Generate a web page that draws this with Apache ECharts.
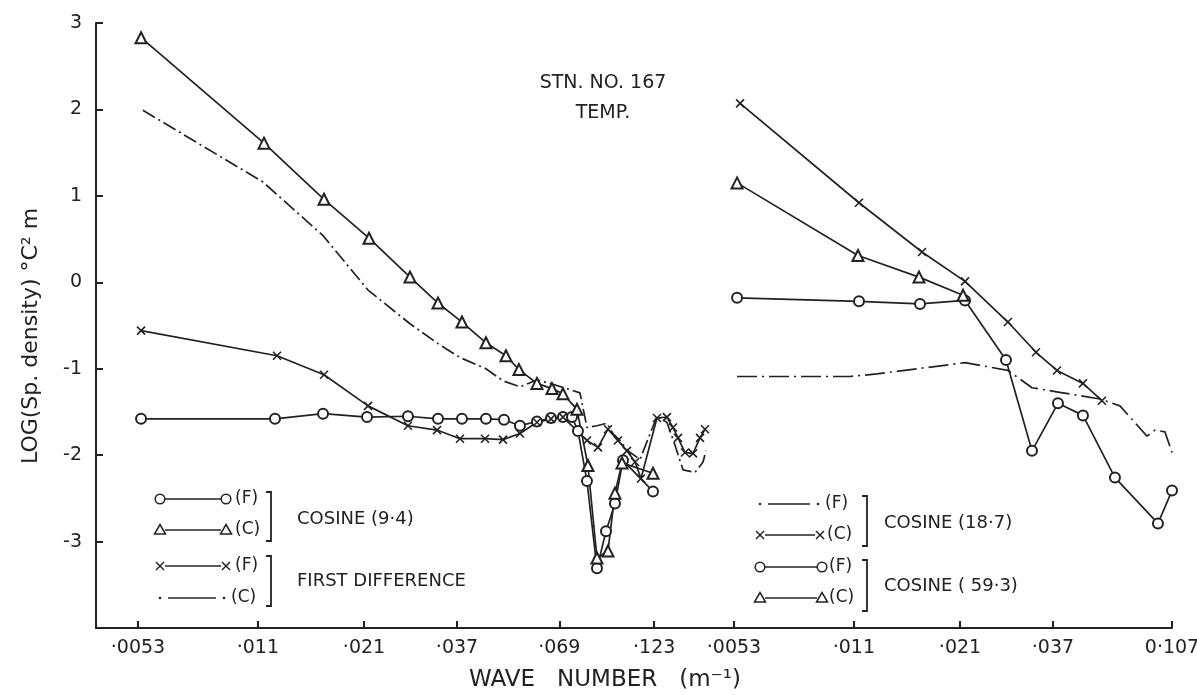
<!DOCTYPE html>
<html><head><meta charset="utf-8">
<script src="https://cdn.jsdelivr.net/npm/echarts@6/dist/echarts.min.js"></script>
<style>html,body{margin:0;padding:0;background:#fff}#c{width:1197px;height:695px}</style>
</head><body><div id="c"></div><script>
// ---- DATA (x = wave number m^-1, y = log spectral density) ----
const leftTickValues = [0.0053, 0.011, 0.021, 0.037, 0.069, 0.123];
const leftTickLabels = ['·0053', '·011', '·021', '·037', '·069', '·123'];
const rightTickValues = [0.0053, 0.011, 0.021, 0.037, 0.0764];
const rightTickLabels = ['·0053', '·011', '·021', '·037', '0·107'];
const yTickLabels = ['-3', '-2', '-1', '0', '1', '2', '3'];

// Left panel
const cosine94F = [[0.00540,-1.58],[0.01221,-1.58],[0.01636,-1.52],[0.02139,-1.56],[0.02745,-1.55],[0.03296,-1.58],[0.03814,-1.58],[0.04414,-1.58],[0.04927,-1.59],[0.05430,-1.66],[0.06022,-1.61],[0.06560,-1.57],[0.07055,-1.56],[0.07455,-1.56],[0.07731,-1.72],[0.08167,-2.30],[0.08680,-3.31],[0.09170,-2.88],[0.09685,-2.56],[0.1017,-2.06],[0.1221,-2.42]];
const cosine94C = [[0.00540,2.83],[0.01142,1.61],[0.01646,0.96],[0.02165,0.51],[0.02779,0.06],[0.03296,-0.24],[0.03814,-0.46],[0.04414,-0.70],[0.04986,-0.85],[0.05397,-1.01],[0.06022,-1.17],[0.06600,-1.23],[0.07055,-1.29],[0.07684,-1.47],[0.08215,-2.12],[0.08680,-3.19],[0.09282,-3.11],[0.09685,-2.44],[0.1011,-2.09],[0.1221,-2.21]];
const firstDiffF = [[0.00540,-0.56],[0.01236,-0.85],[0.01646,-1.07],[0.02152,-1.43],[0.02745,-1.66],[0.03276,-1.71],[0.03768,-1.81],[0.04388,-1.81],[0.04897,-1.82],[0.05430,-1.75],[0.06022,-1.62],[0.06560,-1.58],[0.07055,-1.56],[0.08167,-1.83],[0.08733,-1.91],[0.09282,-1.70],[0.09861,-1.83],[0.1042,-1.95],[0.1095,-2.08],[0.1135,-2.27],[0.1251,-1.57],[0.1329,-1.56],[0.1379,-1.68],[0.1422,-1.80],[0.1484,-1.97],[0.1558,-1.98],[0.1626,-1.80],[0.1676,-1.70]];
const firstDiffC = [[0.00546,1.99],[0.01135,1.16],[0.01636,0.54],[0.02152,-0.09],[0.02779,-0.48],[0.03296,-0.71],[0.03768,-0.87],[0.04414,-1.00],[0.04897,-1.14],[0.05430,-1.21],[0.06022,-1.13],[0.06519,-1.17],[0.07228,-1.23],[0.07826,-1.28],[0.08167,-1.68],[0.08680,-1.66],[0.09226,-1.63],[0.09566,-1.75],[0.09985,-1.83],[0.1049,-1.95],[0.1128,-2.05],[0.1251,-1.55],[0.1329,-1.62],[0.1388,-1.85],[0.1466,-2.17],[0.1577,-2.20],[0.1656,-2.08],[0.1686,-1.95]];

// Right panel
const cosine187F = [[0.00540,-1.09],[0.01074,-1.09],[0.01266,-1.06],[0.02165,-0.93],[0.02812,-1.02],[0.03256,-1.22],[0.03814,-1.27],[0.04927,-1.35],[0.05564,-1.43],[0.06560,-1.78],[0.06887,-1.71],[0.07318,-1.73],[0.0764,-1.97]];
const cosine187C = [[0.00550,2.07],[0.01135,0.92],[0.01666,0.35],[0.02165,0.01],[0.02812,-0.46],[0.03336,-0.81],[0.03791,-1.02],[0.04441,-1.17],[0.04986,-1.37]];
const cosine593F = [[0.00540,-0.18],[0.01135,-0.22],[0.01646,-0.25],[0.02165,-0.21],[0.02779,-0.90],[0.03256,-1.95],[0.03814,-1.40],[0.04441,-1.54],[0.05397,-2.26],[0.07013,-2.79],[0.0764,-2.41]];
const cosine593C = [[0.00540,1.15],[0.01128,0.31],[0.01636,0.06],[0.02139,-0.15]];

// ---- STYLE ----
const INK = '#222222';
const FONT = "'DejaVu Sans', sans-serif";
const XSYM = 'path://M0,0L10,10M10,0L0,10';
const LW = 1.7;

function mkSeries(name, data, idx, kind) {
  const s = {name, type: 'line', data, xAxisIndex: idx, yAxisIndex: idx,
    lineStyle: {color: INK, width: LW}, itemStyle: {color: INK, borderColor: INK, borderWidth: 1.5},
    symbol: 'none', symbolSize: 10, showAllSymbol: true, z: 3, emphasis: {disabled: true}};
  if (kind === 'circle') { s.symbol = 'emptyCircle'; s.symbolSize = 10; }
  if (kind === 'tri') { s.symbol = 'emptyTriangle'; s.symbolSize = 11; }
  if (kind === 'x') { s.symbol = XSYM; s.symbolSize = 8; s.itemStyle = {color: 'none', borderColor: INK, borderWidth: 1.6}; }
  if (kind === 'dashdot') { s.lineStyle.type = [14, 4, 2, 4]; }
  if (kind === 'dashdot2') { s.lineStyle.type = [20, 5, 2, 5]; }
  return s;
}

function xAxisFor(idx, min, max, values, labels) {
  return {type: 'log', gridIndex: idx, min, max, logBase: 10,
    axisLine: {show: true, onZero: false, lineStyle: {color: INK, width: 2}},
    axisTick: {show: true, inside: true, length: 7, customValues: values, lineStyle: {color: INK, width: 2}},
    axisLabel: {customValues: values, margin: 11, color: INK, fontFamily: FONT, fontSize: 19,
      formatter: v => { let best = 0; for (let i = 1; i < values.length; i++) if (Math.abs(Math.log(values[i]) - Math.log(v)) < Math.abs(Math.log(values[best]) - Math.log(v))) best = i; return labels[best]; }},
    splitLine: {show: false}, minorTick: {show: false}};
}

const legendLeft = [
  {x1: 160, x2: 226, y: 499, sym: 'circle', label: '(F)', lx: 235},
  {x1: 160, x2: 226, y: 530, sym: 'tri', label: '(C)', lx: 235},
  {x1: 160, x2: 226, y: 566, sym: 'x', label: '(F)', lx: 235},
  {x1: 160, x2: 224, y: 598, sym: 'dot', label: '(C)', lx: 231}
];
const legendRight = [
  {x1: 760, x2: 818, y: 504, sym: 'dot', label: '(F)', lx: 825},
  {x1: 760, x2: 820, y: 535, sym: 'x', label: '(C)', lx: 827},
  {x1: 760, x2: 822, y: 567, sym: 'circle', label: '(F)', lx: 829},
  {x1: 760, x2: 822, y: 598, sym: 'tri', label: '(C)', lx: 829}
];
const groups = [
  {bx: 271, y1: 492, y2: 541, text: 'COSINE (9·4)', tx: 297, ty: 519},
  {bx: 271, y1: 556, y2: 606, text: 'FIRST DIFFERENCE', tx: 297, ty: 581},
  {bx: 867, y1: 496, y2: 546, text: 'COSINE (18·7)', tx: 884, ty: 523},
  {bx: 867, y1: 560, y2: 611, text: 'COSINE ( 59·3)', tx: 884, ty: 586}
];

function symbolEl(kind, cx, cy) {
  const st = {stroke: INK, lineWidth: 1.5, fill: '#fff'};
  if (kind === 'circle') return [{type: 'circle', shape: {cx, cy, r: 4.8}, style: st, z: 10}];
  if (kind === 'tri') return [{type: 'polygon', shape: {points: [[cx, cy - 5.5], [cx + 5.5, cy + 4], [cx - 5.5, cy + 4]]}, style: st, z: 10}];
  if (kind === 'x') return [
    {type: 'line', shape: {x1: cx - 4, y1: cy - 4, x2: cx + 4, y2: cy + 4}, style: {stroke: INK, lineWidth: 1.5}, z: 10},
    {type: 'line', shape: {x1: cx + 4, y1: cy - 4, x2: cx - 4, y2: cy + 4}, style: {stroke: INK, lineWidth: 1.5}, z: 10}];
  return [{type: 'circle', shape: {cx, cy, r: 1.3}, style: {fill: INK}, z: 10}];
}
function txt(text, x, y, size, align, extra) {
  return Object.assign({type: 'text', x, y, z: 10, style: {text, fill: INK, font: size + 'px ' + FONT,
    textAlign: align, align: align, textVerticalAlign: 'middle', verticalAlign: 'middle'}}, extra || {});
}

const graphics = [];
[...legendLeft, ...legendRight].forEach(r => {
  const pad = r.sym === 'dot' ? 8 : 5;
  graphics.push({type: 'line', shape: {x1: r.x1 + pad, y1: r.y, x2: r.x2 - pad, y2: r.y}, style: {stroke: INK, lineWidth: 1.5}, z: 9});
  graphics.push(...symbolEl(r.sym, r.x1, r.y), ...symbolEl(r.sym, r.x2, r.y));
  graphics.push(txt(r.label, r.lx, r.y, 17, 'left'));
});
groups.forEach(g => {
  graphics.push({type: 'polyline', shape: {points: [[g.bx - 5, g.y1], [g.bx, g.y1], [g.bx, g.y2], [g.bx - 5, g.y2]]}, style: {stroke: INK, lineWidth: 1.8, fill: 'none'}, z: 10});
  graphics.push(txt(g.text, g.tx, g.ty, 18, 'left'));
});
graphics.push(txt('STN. NO. 167', 603, 83, 19, 'center'));
graphics.push(txt('TEMP.', 603, 113, 19, 'center'));
graphics.push(txt('WAVE   NUMBER   (m⁻¹)', 605, 680, 23, 'center'));
graphics.push(txt('LOG(Sp. density) °C² m', 31, 336, 22, 'center', {rotation: Math.PI / 2}));

const chart = echarts.init(document.getElementById('c'), null, {renderer: 'canvas'});
chart.setOption({
  animation: false,
  backgroundColor: '#fff',
  grid: [
    {left: 96, right: 463, top: 23, bottom: 67, outerBoundsMode: 'none', containLabel: false},
    {left: 734, right: 25, top: 23, bottom: 67, outerBoundsMode: 'none', containLabel: false}
  ],
  xAxis: [
    xAxisFor(0, 0.004104, 0.2, leftTickValues, leftTickLabels),
    xAxisFor(1, 0.0053, 0.0764, rightTickValues, rightTickLabels)
  ],
  yAxis: [
    {type: 'value', gridIndex: 0, min: -4, max: 3, interval: 1,
      axisLine: {show: true, onZero: false, lineStyle: {color: INK, width: 2}},
      axisTick: {show: true, inside: true, length: 7, lineStyle: {color: INK, width: 2}},
      axisLabel: {margin: 14, color: INK, fontFamily: FONT, fontSize: 19,
        formatter: v => { const i = Math.round(v) + 3; return (i >= 0 && i < yTickLabels.length) ? yTickLabels[i] : ''; }},
      splitLine: {show: false}},
    {type: 'value', gridIndex: 1, min: -4, max: 3, interval: 1, show: false, splitLine: {show: false}}
  ],
  series: [
    mkSeries('Cosine 9.4 (F)', cosine94F, 0, 'circle'),
    mkSeries('Cosine 9.4 (C)', cosine94C, 0, 'tri'),
    mkSeries('First difference (F)', firstDiffF, 0, 'x'),
    mkSeries('First difference (C)', firstDiffC, 0, 'dashdot'),
    mkSeries('Cosine 18.7 (F)', cosine187F, 1, 'dashdot2'),
    mkSeries('Cosine 18.7 (C)', cosine187C, 1, 'x'),
    mkSeries('Cosine 59.3 (F)', cosine593F, 1, 'circle'),
    mkSeries('Cosine 59.3 (C)', cosine593C, 1, 'tri')
  ],
  graphic: graphics
});
</script></body></html>
